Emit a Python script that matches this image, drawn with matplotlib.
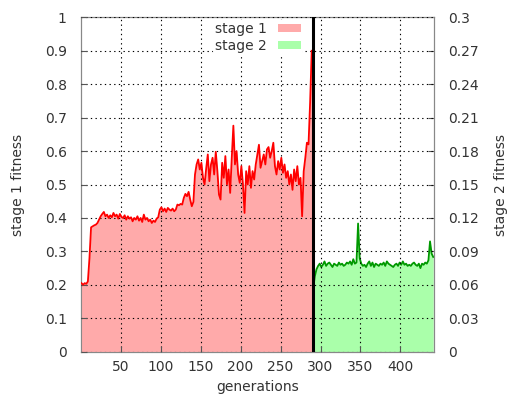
import matplotlib
matplotlib.use("Agg")
import matplotlib.pyplot as plt
import numpy as np
from matplotlib.patches import Patch

# stage 1 fitness, read every 2nd generation (1, 3, ..., 289)
stage1_gen = np.arange(1, 290, 2)
stage1_fit = [
    0.205, 0.200, 0.205, 0.203, 0.210, 0.280, 0.372, 0.375, 0.378, 0.380,
    0.385, 0.395, 0.405, 0.412, 0.418, 0.405, 0.410, 0.400, 0.408, 0.402,
    0.415, 0.405, 0.410, 0.398, 0.412, 0.403, 0.400, 0.408, 0.395, 0.405,
    0.398, 0.402, 0.390, 0.400, 0.395, 0.405, 0.392, 0.400, 0.388, 0.410,
    0.395, 0.400, 0.390, 0.395, 0.385, 0.392, 0.388, 0.398, 0.402, 0.425,
    0.432, 0.420, 0.428, 0.418, 0.430, 0.425, 0.422, 0.428, 0.420, 0.425,
    0.440, 0.438, 0.442, 0.440, 0.460, 0.472, 0.465, 0.478, 0.455, 0.435,
    0.448, 0.530, 0.560, 0.575, 0.545, 0.565, 0.520, 0.500, 0.548, 0.590,
    0.510, 0.560, 0.580, 0.530, 0.598, 0.540, 0.470, 0.455, 0.565, 0.520,
    0.585, 0.500, 0.545, 0.475, 0.580, 0.676, 0.560, 0.600, 0.530, 0.505,
    0.555, 0.500, 0.415, 0.540, 0.500, 0.555, 0.490, 0.540, 0.515, 0.560,
    0.590, 0.619, 0.550, 0.570, 0.590, 0.560, 0.605, 0.612, 0.580, 0.600,
    0.625, 0.555, 0.530, 0.570, 0.545, 0.580, 0.535, 0.560, 0.520, 0.540,
    0.500, 0.530, 0.484, 0.545, 0.510, 0.555, 0.500, 0.520, 0.405, 0.540,
    0.580, 0.625, 0.620, 0.745, 0.900,
]

# stage 2 fitness (right axis), generations 291, 293, ..., 441
stage2_gen = np.arange(291, 442, 2)
stage2_fit = [
    0.058, 0.068, 0.074, 0.077, 0.079, 0.076, 0.078, 0.081, 0.077, 0.079,
    0.080, 0.078, 0.076, 0.079, 0.078, 0.077, 0.080, 0.078, 0.079, 0.077,
    0.078, 0.080, 0.079, 0.081, 0.078, 0.083, 0.079, 0.080, 0.115, 0.084,
    0.079, 0.077, 0.078, 0.076, 0.079, 0.081, 0.077, 0.080, 0.076, 0.079,
    0.078, 0.077, 0.079, 0.078, 0.080, 0.077, 0.081, 0.079, 0.078, 0.077,
    0.076, 0.078, 0.079, 0.077, 0.080, 0.078, 0.081, 0.078, 0.079, 0.077,
    0.078, 0.077, 0.079, 0.080, 0.078, 0.077, 0.079, 0.075, 0.079, 0.078,
    0.080, 0.079, 0.082, 0.099, 0.088, 0.085,
]

switch_gen = 290
left_ticks = [0, 0.1, 0.2, 0.3, 0.4, 0.5, 0.6, 0.7, 0.8, 0.9, 1]
left_labels = ["0", "0.1", "0.2", "0.3", "0.4", "0.5", "0.6", "0.7", "0.8", "0.9", "1"]
right_ticks = [0, 0.03, 0.06, 0.09, 0.12, 0.15, 0.18, 0.21, 0.24, 0.27, 0.3]
right_labels = ["0", "0.03", "0.06", "0.09", "0.12", "0.15", "0.18", "0.21", "0.24", "0.27", "0.3"]
x_ticks = [50, 100, 150, 200, 250, 300, 350, 400]

txt = "#333333"
fig = plt.figure(figsize=(5.09, 3.99), dpi=100)
ax = fig.add_axes([0.1585, 0.1185, 0.6942, 0.8381])
ax2 = ax.twinx()

ax.fill_between(stage1_gen, 0, stage1_fit, color="#ffaaaa", lw=0, zorder=2)
ax.plot(stage1_gen, stage1_fit, color="#ff0000", lw=1.3, zorder=3)

ax2.fill_between(stage2_gen, 0, stage2_fit, color="#aaffaa", lw=0, zorder=2)
ax2.plot(stage2_gen, stage2_fit, color="#009900", lw=1.3, zorder=3)

ax.axvline(switch_gen, color="black", lw=2.2, zorder=5)

ax.set_xlim(0, 442)
ax.set_ylim(0, 1)
ax2.set_ylim(0, 0.3)

ax.set_xticks(x_ticks)
ax.set_xticklabels([str(t) for t in x_ticks])
ax.set_yticks(left_ticks)
ax.set_yticklabels(left_labels)
ax2.set_yticks(right_ticks)
ax2.set_yticklabels(right_labels)

ax.grid(True, color="black", linestyle=(0, (1.2, 3)), lw=0.8, zorder=1)
ax.set_axisbelow(False)
for a in (ax, ax2):
    a.tick_params(direction="in", length=4, colors="#555555", labelcolor=txt, labelsize=10)
    for s in a.spines.values():
        s.set_color("#888888")
ax.tick_params(axis="y", pad=10)
ax2.tick_params(axis="y", pad=10)
ax.tick_params(axis="x", pad=6)

ax.set_xlabel("generations", color=txt, fontsize=10, labelpad=4)
ax.set_ylabel("stage 1 fitness", color=txt, fontsize=10, labelpad=14)
ax2.set_ylabel("stage 2 fitness", color=txt, fontsize=10, labelpad=11)

# put fills under the grid of the main axes
ax.set_zorder(ax2.get_zorder() + 1)
ax.patch.set_visible(False)

handles = [Patch(facecolor="#ffaaaa", edgecolor="none"),
           Patch(facecolor="#aaffaa", edgecolor="none")]
leg = ax.legend(handles, ["stage 1", "stage 2"], loc="upper right",
                bbox_to_anchor=(0.648, 1.012), markerfirst=False, frameon=True,
                handlelength=1.65, handleheight=0.5, fontsize=10,
                borderpad=0.1, labelspacing=0.22, handletextpad=0.85)
leg.get_frame().set_facecolor("white")
leg.get_frame().set_edgecolor("none")
leg.get_frame().set_alpha(1)
for t in leg.get_texts():
    t.set_color(txt)
leg.set_zorder(10)

fig.savefig("out.png", dpi=100)
